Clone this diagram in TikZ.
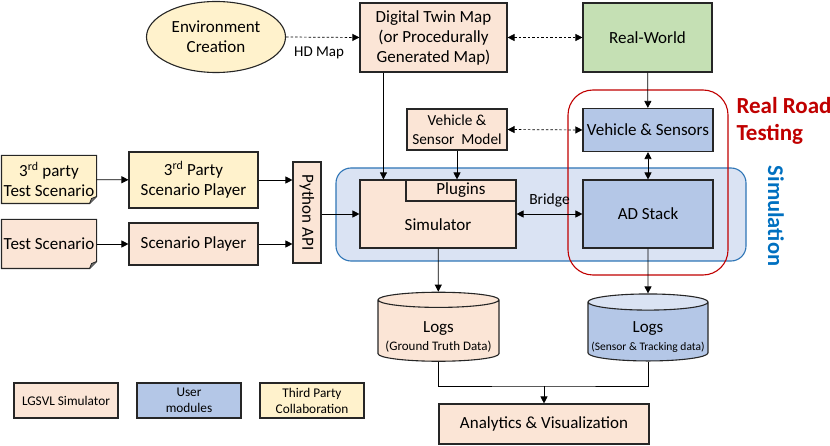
\documentclass[tikz,border=0pt]{standalone}
\usepackage{fontspec}
\setmainfont{Carlito}
\usetikzlibrary{arrows.meta,positioning,shapes.geometric,backgrounds}

\definecolor{peach}{HTML}{FBE5D6}
\definecolor{partyyellow}{HTML}{FFF2CC}
\definecolor{worldgreen}{HTML}{C5E0B4}
\definecolor{userblue}{HTML}{B4C7E7}
\definecolor{simfill}{HTML}{DAE3F3}
\definecolor{simline}{HTML}{2E75B6}
\definecolor{simtext}{HTML}{0070C0}
\definecolor{roadred}{HTML}{C00000}

\tikzset{
  box/.style={draw=black!85, line width=1.1pt, fill=peach, align=center, inner sep=1pt,
    font=\fontsize{17}{20}\selectfont},
  userbox/.style={box, fill=userblue},
  partybox/.style={box, fill=partyyellow},
  docbox/.style={box, draw=none, fill=none},
  legend/.style={box, font=\fontsize{13.3}{16}\selectfont, minimum width=104pt, minimum height=35pt},
  logs/.style={cylinder, shape border rotate=90, draw=black!85, line width=1.1pt, aspect=0.14,
    align=center, inner sep=1pt, cylinder uses custom fill, font=\fontsize{17}{20}\selectfont},
  logtext/.style={yshift=-5pt, align=center, font=\fontsize{17}{20}\selectfont},
  arr/.style={-{Triangle[length=7pt,width=7pt]}, line width=0.7pt},
  biarr/.style={{Triangle[length=7pt,width=7pt]}-{Triangle[length=7pt,width=7pt]}, line width=0.7pt},
  dasharr/.style={arr, dash pattern=on 2.5pt off 2pt},
  dashbiarr/.style={biarr, dash pattern=on 2.5pt off 2pt},
}

% document outline with a folded corner
\newcommand{\docshape}[2]{%
  \filldraw[fill=#2, draw=black!85, line width=1.1pt] (#1.north west) -- (#1.north east)
    -- ([yshift=7pt]#1.south east) -- ([xshift=-7pt]#1.south east) -- (#1.south west) -- cycle;
  \filldraw[fill=black!55, draw=black!85, line width=0.8pt] ([xshift=-7pt]#1.south east)
    -- ([shift={(-5pt,5pt)}]#1.south east) -- ([yshift=7pt]#1.south east);
}

\begin{document}
\begin{tikzpicture}[x=1pt, y=-1pt]
  \useasboundingbox (0,0) rectangle (830,446);

  % top row
  \node[ellipse, partybox, minimum width=139pt, minimum height=71pt] (env) at (216,37) {Environment\\Creation};
  \node[box, minimum width=147pt, minimum height=69pt] (dtm) at (433.5,37.5) {Digital Twin Map\\(or Procedurally\\Generated Map)};
  \node[box, fill=worldgreen, minimum width=129pt, minimum height=69pt] (rw) at (647.5,37.5) {Real-World};

  % vehicle models
  \node[box, minimum width=100pt, minimum height=41pt, font=\fontsize{15.3}{19}\selectfont] (vsm) at (457,129.5) {Vehicle \&\\Sensor~~Model};
  \node[userbox, minimum width=130pt, minimum height=43pt] (vs) at (648,130) {Vehicle \& Sensors};

  % simulation
  \node[box, minimum width=156pt, minimum height=68pt,
    label={[yshift=-11pt, font=\fontsize{17}{20}\selectfont]center:Simulator}] (sim) at (438,214) {};
  \node[box, minimum width=110pt, minimum height=21pt] (plug) at (461,190.5) {Plugins};
  \node[userbox, minimum width=130pt, minimum height=68pt] (ad) at (648,214) {AD Stack};
  \node[box, minimum width=28pt, minimum height=101pt] (api) at (307,212.5) {\rotatebox{-90}{Python API}};

  % scenarios
  \node[docbox, minimum width=94pt, minimum height=47pt] (t3) at (49,179.5) {3\textsuperscript{rd} party\\Test Scenario};
  \node[partybox, minimum width=129pt, minimum height=56pt] (p3) at (193.5,180) {3\textsuperscript{rd} Party\\Scenario Player};
  \node[docbox, minimum width=94pt, minimum height=48pt] (ts) at (49,244) {Test Scenario};
  \node[box, minimum width=129pt, minimum height=42pt] (sp) at (193.5,244) {Scenario Player};

  % logs and analysis
  \node[logs, cylinder body fill=peach, cylinder end fill=peach, minimum width=121pt, minimum height=69pt,
    label={[logtext]center:Logs\\[-2pt]{\fontsize{13}{14}\selectfont(Ground Truth Data)}}] (lgt)
    at (438.5,331.5) {\phantom{Logs}\\[-2pt]{\fontsize{13}{14}\selectfont\phantom{(Ground Truth Data)}}};
  \node[logs, cylinder body fill=userblue, cylinder end fill=simfill, minimum width=120pt, minimum height=67pt,
    label={[logtext]center:Logs\\[-2pt]{\fontsize{11.5}{14}\selectfont(Sensor \& Tracking data)}}] (lst)
    at (648,332.5) {\phantom{Logs}\\[-2pt]{\fontsize{11.5}{14}\selectfont\phantom{(Sensor \& Tracking data)}}};
  \node[box, minimum width=210pt, minimum height=40pt] (ana) at (544,424) {Analytics \& Visualization};
  \coordinate (join) at (544,386);

  % legend
  \node[legend] (leg1) at (66,400.5) {LGSVL Simulator};
  \node[legend, fill=userblue] (leg2) at (189,400.5) {User\\modules};
  \node[legend, fill=partyyellow] (leg3) at (312,400.5) {Third Party\\Collaboration};

  % region labels
  \node[anchor=west, align=left, text=roadred, font=\fontsize{23}{27}\selectfont\bfseries] (rrt) at (733,121) {Real Road\\Testing};
  \node[rotate=-90, text=simtext, font=\fontsize{22.5}{24}\selectfont\bfseries] (simlabel) at (776,216) {Simulation};

  \begin{scope}[on background layer]
    \filldraw[fill=simfill, draw=simline, line width=1.1pt, rounded corners=15pt] (336,168) rectangle (746,261);
    \docshape{t3}{partyyellow}
    \docshape{ts}{peach}
  \end{scope}
  \draw[roadred, line width=1.1pt, rounded corners=25pt] (568,90) rectangle (728,275);

  % connectors
  \draw[dasharr] (env.east) -- node[below=6pt, pos=0.45, font=\fontsize{15}{16}\selectfont] {HD Map} (dtm.west);
  \draw[dashbiarr] (dtm.east) -- (rw.west);
  \draw[arr] (rw) -- (vs);
  \draw[dashbiarr] (vsm.east) -- (vs.west);
  \draw[biarr] (vs) -- (ad);
  \draw[arr] (vsm) -- (vsm |- plug.north);
  \draw[arr] ([xshift=24pt]dtm.south west) -- ([xshift=24pt]sim.north west);
  \draw[biarr] (sim.east) -- node[above=3pt, font=\fontsize{15.5}{16}\selectfont] {Bridge} (ad.west);
  \draw[arr] (t3) -- (p3);
  \draw[arr] (ts) -- (sp);
  \draw[arr] (p3.east) -- (p3.east -| api.west);
  \draw[arr] (sp.east) -- (sp.east -| api.west);
  \draw[arr] (api.east |- sim.west) -- (sim.west);
  \draw[arr] (sim) -- (lgt);
  \draw[arr] (ad) -- (lst);
  \draw[line width=0.7pt] (lgt.south) |- (join) -| (lst.south);
  \draw[arr] (join) -- (ana);
\end{tikzpicture}
\end{document}
